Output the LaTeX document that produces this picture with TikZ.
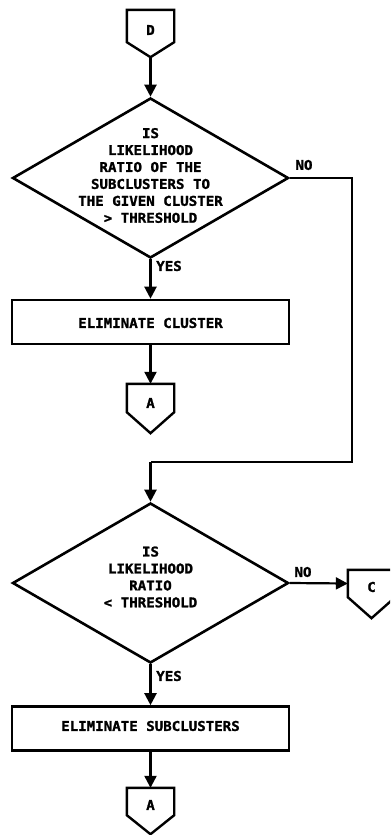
\documentclass[tikz,border=0pt]{standalone}
\usepackage{fontspec}
\newfontfamily\lab[FakeStretch=1.05,FakeBold=1.5]{DejaVu Sans Mono Bold}
\usetikzlibrary{arrows.meta,shapes.geometric}
\begin{document}
\begin{tikzpicture}[x=1bp,y=-1bp,
  lbl/.style={font=\lab\fontsize{13.5}{17}\selectfont, align=center, inner sep=0pt},
  decision/.style={diamond, draw, line width=2.6bp, minimum width=276bp, minimum height=160bp, inner sep=0pt},
  process/.style={rectangle, draw, line width=2.6bp, minimum width=277bp, minimum height=44bp, inner sep=0pt},
  offbox/.style={rectangle, draw=none, minimum width=47bp, inner sep=0pt},
  outline/.style={line width=2.4bp, line join=miter},
  flow/.style={line width=2.2bp, -{Triangle[width=12bp,length=12bp]}},
  route/.style={line width=1.6bp}
]
\useasboundingbox (0,0) rectangle (390,835);
\clip (0,0) rectangle (390,835);

% off-page connector D
\node[offbox, minimum height=32bp] (D) at (150.5,26) {};
\coordinate (Dtip) at ([yshift=-15bp]D.south);
\draw[outline] (D.north west) -- (D.north east) -- (D.south east) -- (Dtip) -- (D.south west) -- cycle;
\node[lbl] (Dl) at (150.5,30) {D};

% decision 1
\node[decision] (d1) at (150.5,178) {};
\node[lbl] (d1t) at (150.5,175.5) {IS\\LIKELIHOOD\\RATIO OF THE\\SUBCLUSTERS TO\\THE GIVEN CLUSTER\\> THRESHOLD};

% process 1
\node[process] (b1) at (150.5,322) {};
\node[lbl] (b1t) at (150.5,323) {ELIMINATE CLUSTER};

% connector A (1)
\node[offbox, minimum height=28bp] (A1) at (150.5,398) {};
\coordinate (A1tip) at ([yshift=-21bp]A1.south);
\draw[outline] (A1.north west) -- (A1.north east) -- (A1.south east) -- (A1tip) -- (A1.south west) -- cycle;
\node[lbl] (A1l) at (150.5,403) {A};

% decision 2
\node[decision] (d2) at (150.5,583) {};
\node[lbl] (d2t) at (150.5,577) {IS\\LIKELIHOOD\\RATIO\\< THRESHOLD};

% connector C
\node[offbox, minimum height=27bp] (C) at (371.5,583.5) {};
\coordinate (Ctip) at ([yshift=-21bp]C.south);
\draw[outline] (C.north west) -- (C.north east) -- (C.south east) -- (Ctip) -- (C.south west) -- cycle;
\node[lbl] (Cl) at (371.5,587) {C};

% process 2
\node[process] (b2) at (150.5,728.5) {};
\node[lbl] (b2t) at (150.5,726) {ELIMINATE SUBCLUSTERS};

% connector A (2)
\node[offbox, minimum height=27bp] (A2) at (150.5,801.5) {};
\coordinate (A2tip) at ([yshift=-19bp]A2.south);
\draw[outline] (A2.north west) -- (A2.north east) -- (A2.south east) -- (A2tip) -- (A2.south west) -- cycle;
\node[lbl] (A2l) at (150.5,805) {A};

% connectors
\draw[flow] (Dtip) -- (d1.north);
\draw[flow] (d1.south) -- (b1.north);
\draw[flow] (b1.south) -- (A1.north);
\coordinate (r1) at (352,178);
\coordinate (r2) at (352,462);
\coordinate (r3) at (150.5,462);
\draw[route] (d1.east) -- (r1) -- (r2) -- (r3);
\draw[flow] (r3) -- (d2.north);
\draw[flow] (d2.east) -- (C.west);
\draw[flow] (d2.south) -- (b2.north);
\draw[flow] (b2.south) -- (A2.north);

% labels
\node[lbl] (no1) at (304,165) {NO};
\node[lbl] (yes1) at (169,266) {YES};
\node[lbl] (no2) at (303,572) {NO};
\node[lbl] (yes2) at (169,676) {YES};
\end{tikzpicture}
\end{document}
